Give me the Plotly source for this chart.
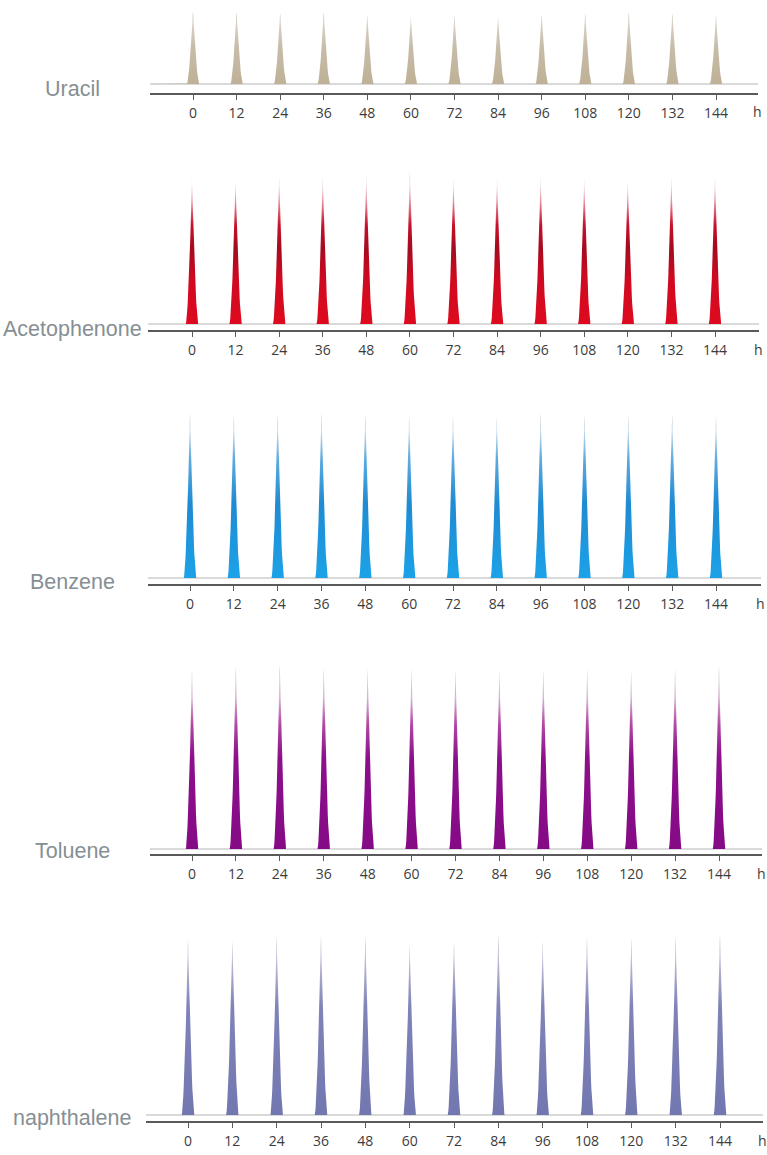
import numpy as np
import plotly.graph_objects as go

# ---------------- data ----------------
hours = [0, 12, 24, 36, 48, 60, 72, 84, 96, 108, 120, 132, 144]
tick_labels = [str(h) for h in hours]
compounds = ["Uracil", "Acetophenone", "Benzene", "Toluene", "naphthalene"]

uracil_heights = [73, 72, 71, 72, 69, 67, 69, 67, 70, 71, 72, 71, 69]
acetophenone_heights = [145, 143, 147, 147, 148, 152, 145, 146, 147, 145, 143, 147, 147]
benzene_heights = [165, 163, 164, 165, 164, 162, 162, 161, 165, 163, 163, 164, 162]
toluene_heights = [180, 182, 184, 181, 180, 180, 179, 178, 179, 180, 178, 180, 183]
naphthalene_heights = [176, 174, 179, 179, 179, 171, 174, 181, 174, 178, 177, 179, 181]

series = [uracil_heights, acetophenone_heights, benzene_heights,
          toluene_heights, naphthalene_heights]

# ---------------- styling ----------------
FW, FH = 767, 1155


def px_x(px):
    return px / FW


def px_y(py):
    return 1 - py / FH


colorscales = [
    [[0, "#bfb197"], [0.5, "#c7bca8"], [0.85, "#d8d2c6"], [1, "#aaa59c"]],
    [[0, "#de0a1f"], [0.3, "#cf0a20"], [0.5, "#a40b20"], [0.65, "#c8102b"],
     [0.8, "#e68c9c"], [0.92, "#ead8dc"], [1, "#8d8d8d"]],
    [[0, "#1ca2e8"], [0.45, "#1f8bd2"], [0.72, "#5eaade"], [0.9, "#cadbe8"], [1, "#8a9098"]],
    [[0, "#850a86"], [0.5, "#8c108c"], [0.68, "#b04aa4"], [0.82, "#d8b4d2"],
     [0.92, "#c8c0c6"], [1, "#8a8a8a"]],
    [[0, "#7377b0"], [0.6, "#7f83b8"], [0.88, "#c2c1d8"], [1, "#9a9aa4"]],
]
# per panel pixel layout: baseline, axis line, tick0 x, tick144 x, line start, line end, label y
panels = [
    dict(base=84, axis=93, t0=193, t144=716, xs=150, xe=758, ly=89),
    dict(base=324, axis=330, t0=192, t144=715, xs=148, xe=759, ly=329),
    dict(base=578, axis=584, t0=190, t144=716, xs=148, xe=761, ly=582),
    dict(base=849, axis=854, t0=192, t144=719, xs=150, xe=762, ly=851),
    dict(base=1115, axis=1121, t0=188, t144=720, xs=146, xe=763, ly=1118),
]

fig = go.Figure()
half_w = 1.7  # peak half base width in hours
u = np.linspace(-1, 1, 41)
shape = (1 - np.abs(u)) ** 1.6

for i, (name, hts, cs, p) in enumerate(zip(compounds, series, colorscales, panels)):
    n = i + 1
    xa = "x" if n == 1 else f"x{n}"
    ya = "y" if n == 1 else f"y{n}"
    scale = 12 / ((p["t144"] - p["t0"]) / 12)  # hours per px
    lo = (p["xs"] - p["t0"]) * scale
    hi = (p["xe"] - p["t0"]) * scale
    ytop = max(0, p["base"] - (max(hts) + 6))
    top = p["base"] - ytop

    xs, ys = [lo], [0]
    for t, h in zip(hours, hts):
        xs.extend((t + u * half_w).tolist())
        ys.extend((h * shape).tolist())
    xs.append(hi)
    ys.append(0)

    fig.add_trace(go.Scatter(x=[lo, hi], y=[0, 0], mode="lines",
                             line=dict(color="#b4b4b4", width=1),
                             xaxis=xa, yaxis=ya, showlegend=False, hoverinfo="skip"))
    fig.add_trace(go.Scatter(x=xs, y=ys, mode="lines", fill="tozeroy",
                             line=dict(width=0),
                             fillgradient=dict(type="vertical", colorscale=cs,
                                               start=0, stop=max(hts)),
                             xaxis=xa, yaxis=ya, showlegend=False, name=name,
                             cliponaxis=False))

    dom_x = [px_x(p["xs"]), px_x(p["xe"])]
    dom_y = [px_y(p["axis"]), min(1.0, px_y(ytop))]
    xkey = "xaxis" if n == 1 else f"xaxis{n}"
    ykey = "yaxis" if n == 1 else f"yaxis{n}"
    fig.update_layout(**{
        xkey: dict(domain=dom_x, range=[lo, hi], anchor=ya, showgrid=False,
                   zeroline=False, showline=True, linecolor="#5a5a5a", linewidth=1.5,
                   ticks="outside", ticklen=5, tickwidth=1, tickcolor="#5a5a5a",
                   tickvals=hours, ticktext=tick_labels, ticklabelstandoff=1,
                   tickfont=dict(family="Open Sans", size=14, color="#3c3c3c"),
                   fixedrange=True),
        ykey: dict(domain=dom_y, range=[-(p["axis"] - p["base"]), top], anchor=xa,
                   visible=False, fixedrange=True),
    })
    fig.add_annotation(text=name, xref="paper", yref="paper", x=px_x(72), y=px_y(p["ly"]),
                       xanchor="center", yanchor="middle", showarrow=False,
                       font=dict(family="Liberation Sans", size=21.5, color="#868f94"))
    fig.add_annotation(text="h", xref="paper", yref="paper", x=px_x(p["xe"] - 1),
                       y=px_y(p["axis"] + 19), xanchor="center", yanchor="middle",
                       showarrow=False,
                       font=dict(family="Open Sans", size=14, color="#3c3c3c"))

fig.update_layout(width=FW, height=FH, margin=dict(l=0, r=0, t=0, b=0),
                  paper_bgcolor="white", plot_bgcolor="white")
fig.write_html("out.html", config={"displayModeBar": False},
               post_script="document.body.style.margin='0';"
                           "document.body.style.overflow='hidden';")
